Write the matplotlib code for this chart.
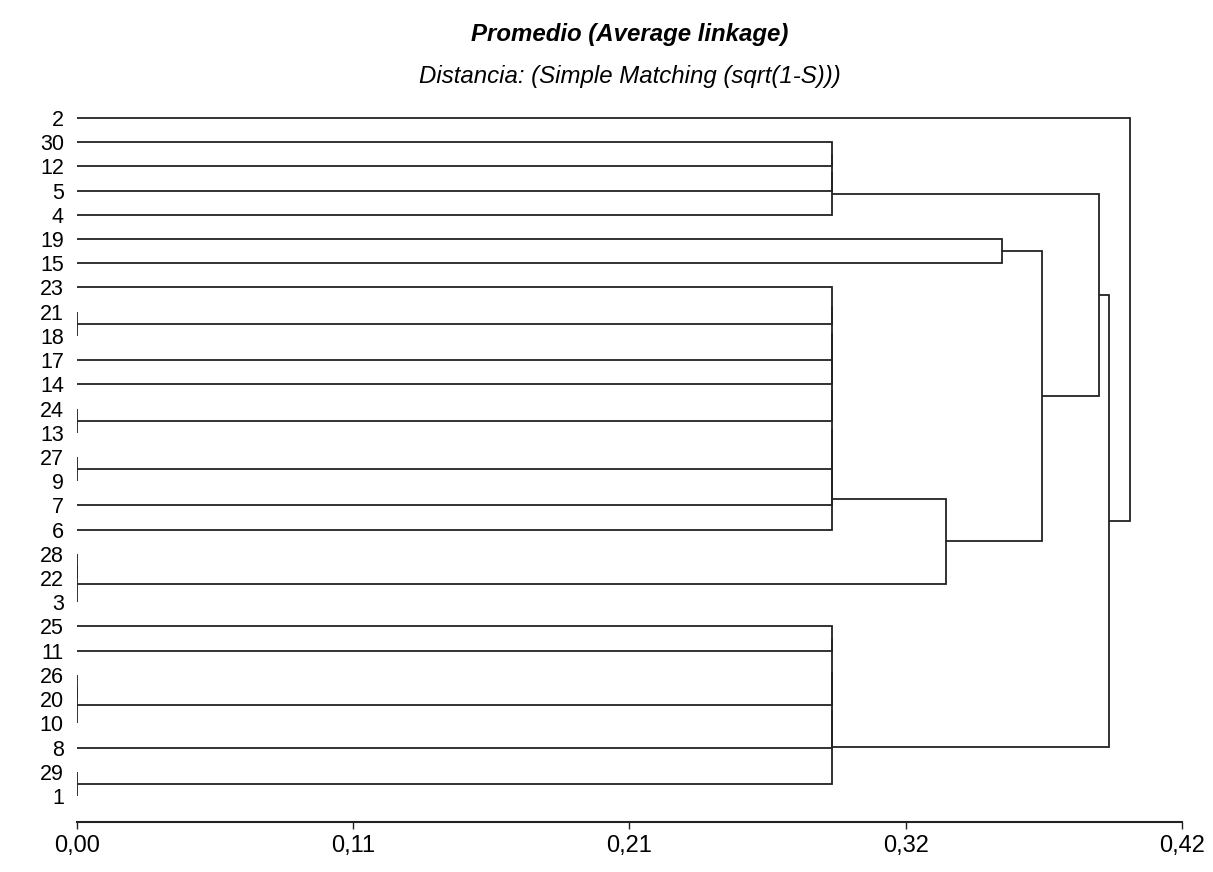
import matplotlib
matplotlib.use("Agg")
import matplotlib.pyplot as plt

plt.rcParams['font.family'] = ['Liberation Sans', 'DejaVu Sans']

# Leaf order from top to bottom
leaf_labels = [2, 30, 12, 5, 4, 19, 15, 23, 21, 18, 17, 14, 24, 13, 27, 9,
               7, 6, 28, 22, 3, 25, 11, 26, 20, 10, 8, 29, 1]

# Agglomeration steps: (left, right, height); ints are leaves, strings are clusters
merges = {
    'c1': (21, 18, 0.0),
    'c2': (24, 13, 0.0),
    'c3': (27, 9, 0.0),
    'c4': (28, 22, 0.0),
    'c5': ('c4', 3, 0.0),
    'c6': (26, 20, 0.0),
    'c7': ('c6', 10, 0.0),
    'c8': (29, 1, 0.0),
    'c9': (30, 12, 0.2868),
    'c10': ('c9', 5, 0.2868),
    'c11': ('c10', 4, 0.2868),
    'c12': (19, 15, 0.3516),
    'c13': (23, 'c1', 0.2868),
    'c14': ('c13', 17, 0.2868),
    'c15': ('c14', 14, 0.2868),
    'c16': ('c15', 'c2', 0.2868),
    'c17': ('c16', 'c3', 0.2868),
    'c18': ('c17', 7, 0.2868),
    'c19': ('c18', 6, 0.2868),
    'c20': ('c19', 'c5', 0.3302),
    'c21': ('c12', 'c20', 0.3667),
    'c22': ('c11', 'c21', 0.3886),
    'c23': (25, 11, 0.2868),
    'c24': ('c23', 'c7', 0.2868),
    'c25': ('c24', 8, 0.2868),
    'c26': ('c25', 'c8', 0.2868),
    'c27': ('c22', 'c26', 0.3924),
    'c28': (2, 'c27', 0.4001),
}

tick_values = [0.0, 0.105, 0.21, 0.315, 0.42]
tick_labels = ['0,00', '0,11', '0,21', '0,32', '0,42']

line_color = '#222222'
lw = 1.3

fig = plt.figure(figsize=(12.13, 8.72), dpi=100)
ax = fig.add_axes([77 / 1213, 50 / 872, 1105 / 1213, 722 / 872])

pos = {lab: i for i, lab in enumerate(leaf_labels)}
hgt = {lab: 0.0 for lab in leaf_labels}

for name, (a, b, h) in merges.items():
    ya, yb = pos[a], pos[b]
    ha, hb = hgt[a], hgt[b]
    ax.plot([ha, h, h, hb], [ya, ya, yb, yb], color=line_color, lw=lw,
            solid_joinstyle='miter', solid_capstyle='butt')
    pos[name] = (ya + yb) / 2.0
    hgt[name] = h

n = len(leaf_labels)
ax.set_xlim(0, 0.42)
ax.set_ylim(n - 1 + 1.074, -0.743)

ax.set_yticks(range(n))
ax.set_yticklabels([str(v) for v in leaf_labels], fontsize=15.5)
ax.tick_params(axis='y', length=0, pad=9.5)

ax.set_xticks(tick_values)
ax.set_xticklabels(tick_labels, fontsize=17)
ax.tick_params(axis='x', direction='out', length=5, width=1.0,
               color=line_color, pad=4)

for s in ('left', 'top', 'right'):
    ax.spines[s].set_visible(False)
ax.spines['bottom'].set_color(line_color)
ax.spines['bottom'].set_linewidth(1.5)
ax.spines['bottom'].set_bounds(0, 0.42)

fig.text(0.5193, 1 - 41 / 872, 'Promedio (Average linkage)', ha='center',
         va='baseline', fontsize=17.3, fontweight='bold', fontstyle='italic')
fig.text(0.5193, 1 - 83 / 872, 'Distancia: (Simple Matching (sqrt(1-S)))',
         ha='center', va='baseline', fontsize=17.3, fontstyle='italic')

fig.savefig('out.png', dpi=100, facecolor='white')
